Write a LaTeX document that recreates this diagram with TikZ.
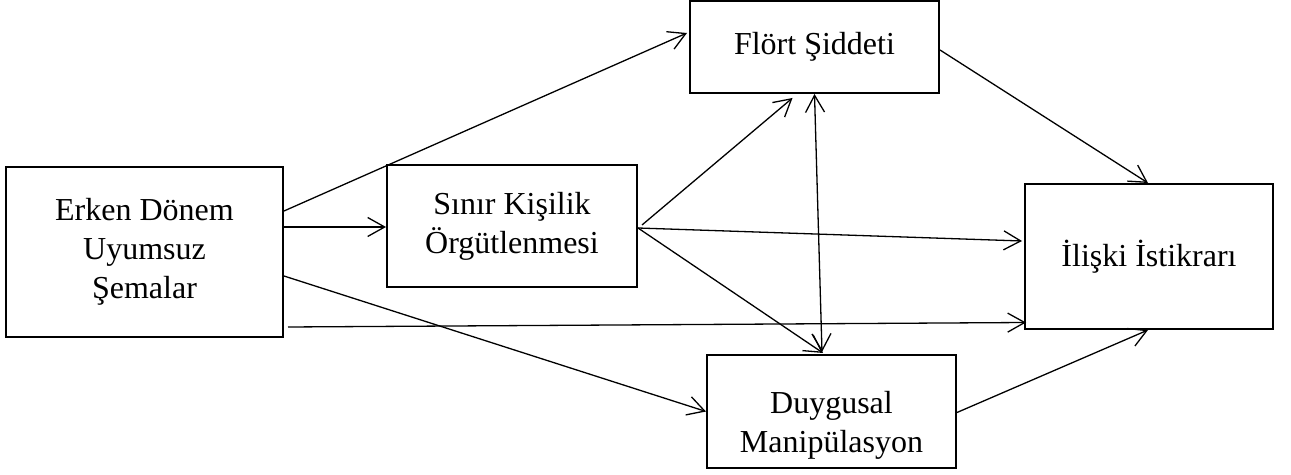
\documentclass[tikz,border=0pt]{standalone}
\usepackage{fontspec}
\setmainfont{Liberation Serif}
\usetikzlibrary{arrows.meta}
\begin{document}
\begin{tikzpicture}[
    x=0.5pt, y=-0.5pt,
    box/.style={rectangle, draw, line width=1pt, align=center, inner sep=0pt, font=\fontsize{16}{19.5}\selectfont},
    arrow/.style={line width=0.65pt, -{Straight Barb[length=8.5pt,width=9.5pt]}},
    twoway/.style={line width=0.65pt, {Straight Barb[length=8.5pt,width=9.5pt]}-{Straight Barb[length=8.5pt,width=9.5pt]}}
]
    \useasboundingbox (0,0) rectangle (1291,475);

    % Boxes
    \node [box, minimum width=138.5pt, minimum height=85pt] (erken) at (144.5,252) {Erken Dönem\\Uyumsuz\\Şemalar};
    \node [box, minimum width=125pt, minimum height=61pt] (sinir) at (512,226) {Sınır Kişilik\\Örgütlenmesi};
    \node [box, minimum width=124.5pt, minimum height=46pt] (flort) at (814.5,47) {Flört Şiddeti};
    \node [box, minimum width=124.5pt, minimum height=56.5pt] (duygusal) at (831.5,411.5) {\rule{0pt}{25pt}Duygusal\\Manipülasyon};
    \node [box, minimum width=124pt, minimum height=72.5pt] (iliski) at (1149,256.5) {İlişki İstikrarı};

    % Arrows
    \draw [arrow] ([yshift=20.5pt]erken.east) -- ([xshift=-1pt,yshift=7pt]flort.west);
    \draw [arrow] ([yshift=12.5pt]erken.east) -- ([yshift=-0.5pt]sinir.west);
    \draw [arrow] ([yshift=-12pt]erken.east) -- (duygusal.west);
    \draw [arrow] ([xshift=2pt,yshift=-37.5pt]erken.east) -- ([xshift=1pt,yshift=-33pt]iliski.west);
    \draw [arrow] ([xshift=2pt,yshift=0.5pt]sinir.east) -- ([xshift=-11pt,yshift=-2pt]flort.south);
    \draw [arrow] ([yshift=-1pt]sinir.east) -- ([xshift=-1pt,yshift=7.75pt]iliski.west);
    \draw [arrow] ([yshift=-1pt]sinir.east) -- ([xshift=-4.25pt,yshift=0.5pt]duygusal.north);
    \draw [twoway] (flort.south) -- ([xshift=-4.75pt,yshift=1pt]duygusal.north);
    \draw [arrow] ([yshift=-1.5pt]flort.east) -- ([xshift=-0.5pt]iliski.north);
    \draw [arrow] ([yshift=-0.5pt]duygusal.east) -- ([xshift=-0.5pt]iliski.south);
\end{tikzpicture}
\end{document}
